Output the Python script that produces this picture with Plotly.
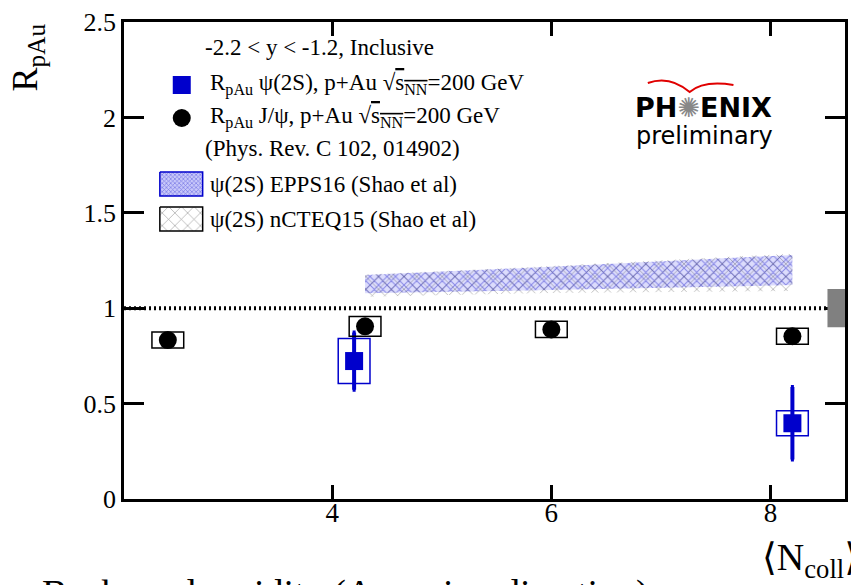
import plotly.graph_objects as go

# ---------------- data ----------------
ncoll_jpsi = [2.5, 4.3, 6.0, 8.2]
rpau_jpsi = [0.833, 0.905, 0.889, 0.853]
jpsi_stat = [0.01, 0.02, 0.01, 0.01]
jpsi_sys = [0.042, 0.052, 0.042, 0.042]

ncoll_psi2s = [4.2, 8.2]
rpau_psi2s = [0.723, 0.397]
psi2s_stat = [0.15, 0.19]
psi2s_sys = [0.118, 0.066]

model_x = [4.3, 6.0, 8.2]
epps_lo = [1.078, 1.095, 1.121]
epps_hi = [1.174, 1.217, 1.279]
ncteq_lo = [1.060, 1.080, 1.090]
ncteq_hi = [1.176, 1.221, 1.286]

global_unc = 0.10
y_ticks = [0, 0.5, 1, 1.5, 2, 2.5]
y_ticklabels = ["0", "0.5", "1", "1.5", "2", "2.5"]
x_ticks = [4, 6, 8]
x_ticklabels = ["4", "6", "8"]

legend_title = "-2.2 &lt; y &lt; -1.2, Inclusive"
label_psi2s = "R<sub>pAu</sub> ψ(2S), p+Au √<span style='text-decoration:overline'>s<sub>NN</sub></span>=200 GeV"
label_jpsi = "R<sub>pAu</sub> J/ψ, p+Au √<span style='text-decoration:overline'>s<sub>NN</sub></span>=200 GeV"
label_ref = "(Phys. Rev. C 102, 014902)"
label_epps = "ψ(2S) EPPS16 (Shao et al)"
label_ncteq = "ψ(2S) nCTEQ15 (Shao et al)"

# ---------------- style ----------------
SERIF = "Liberation Serif, Times New Roman, DejaVu Serif, serif"
SANS = "DejaVu Sans, Verdana, sans-serif"
BLUE = "#0000cc"
BOX_HALF = 0.145
X_RANGE = [2.1, 8.68]
Y_RANGE = [0, 2.5]
W, H = 851, 585
ML, MR, MT, MB = 124, 3, 22, 86

def px(x):
    return (x - ML) / (W - ML - MR)

def py(y):
    return (H - MB - y) / (H - MT - MB)

EPPS_PATTERN = dict(shape="x", fgcolor="#3030d0", bgcolor="#dcdcfc", size=6, solidity=0.3)
NCTEQ_PATTERN = dict(shape="x", fgcolor="#404040", bgcolor="rgba(0,0,0,0)", size=9, solidity=0.14)

fig = go.Figure()

# model bands
fig.add_trace(go.Scatter(
    x=model_x + model_x[::-1], y=epps_hi + epps_lo[::-1],
    fill="toself", fillpattern=EPPS_PATTERN, fillcolor="rgba(0,0,0,0)",
    line=dict(width=0), mode="lines", showlegend=False, hoverinfo="skip"))
fig.add_trace(go.Scatter(
    x=model_x + model_x[::-1], y=ncteq_hi + ncteq_lo[::-1],
    fill="toself", fillpattern=NCTEQ_PATTERN, fillcolor="rgba(0,0,0,0)",
    line=dict(width=0), mode="lines", showlegend=False, hoverinfo="skip"))

shapes = []
# unity line
shapes.append(dict(type="line", xref="x", yref="y", x0=X_RANGE[0], x1=X_RANGE[1], y0=1, y1=1,
                   line=dict(color="black", width=4, dash="2px,3px"), layer="above"))
# global uncertainty box
shapes.append(dict(type="rect", xref="x", yref="y", x0=8.52, x1=8.8,
                   y0=1 - global_unc, y1=1 + global_unc,
                   fillcolor="#808080", line=dict(width=0), layer="above"))
# systematic boxes
for x, y, s in zip(ncoll_jpsi, rpau_jpsi, jpsi_sys):
    shapes.append(dict(type="rect", xref="x", yref="y", x0=x - BOX_HALF, x1=x + BOX_HALF,
                       y0=y - s, y1=y + s, line=dict(color="black", width=1.5), layer="above"))
for x, y, s in zip(ncoll_psi2s, rpau_psi2s, psi2s_sys):
    shapes.append(dict(type="rect", xref="x", yref="y", x0=x - BOX_HALF, x1=x + BOX_HALF,
                       y0=y - s, y1=y + s, line=dict(color=BLUE, width=1.5), layer="above"))

# data points
fig.add_trace(go.Scatter(
    x=ncoll_jpsi, y=rpau_jpsi, mode="markers",
    marker=dict(symbol="circle", size=18, color="black"),
    error_y=dict(type="data", array=jpsi_stat, color="black", thickness=3, width=0),
    showlegend=False))
fig.add_trace(go.Scatter(
    x=ncoll_psi2s, y=rpau_psi2s, mode="markers",
    marker=dict(symbol="square", size=18, color=BLUE),
    error_y=dict(type="data", array=psi2s_stat, color=BLUE, thickness=4, width=1.5),
    showlegend=False))

# ---------------- legend (pixel overlay axes) ----------------
LX = dict(xaxis="x2", yaxis="y2", showlegend=False, hoverinfo="skip")
fig.add_trace(go.Scatter(x=[182], y=[85], mode="markers",
                         marker=dict(symbol="square", size=18, color=BLUE), **LX))
fig.add_trace(go.Scatter(x=[182], y=[118], mode="markers",
                         marker=dict(symbol="circle", size=18, color="black"), **LX))
fig.add_trace(go.Scatter(x=[160, 203, 203, 160, 160], y=[172, 172, 196, 196, 172],
                         fill="toself", fillpattern=dict(shape="x", fgcolor="#2a2ad0", bgcolor="#c8c8fa", size=3, solidity=0.4),
                         fillcolor="rgba(0,0,0,0)", mode="lines", line=dict(color=BLUE, width=1.5), **LX))
fig.add_trace(go.Scatter(x=[160, 203, 203, 160, 160], y=[207, 207, 231, 231, 207],
                         fill="toself", fillpattern=NCTEQ_PATTERN,
                         fillcolor="rgba(0,0,0,0)", mode="lines", line=dict(color="black", width=1.5), **LX))

ann = []
LEG_FONT = dict(family=SERIF, size=23, color="black")
def leg_text(x, y, t):
    ann.append(dict(xref="paper", yref="paper", x=px(x), y=py(y), text=t, showarrow=False,
                    xanchor="left", yanchor="middle", font=LEG_FONT))
leg_text(203, 48, legend_title)
leg_text(208, 85, label_psi2s)
leg_text(208, 118, label_jpsi)
leg_text(203, 148, label_ref)
leg_text(208, 184, label_epps)
leg_text(208, 219, label_ncteq)

# PHENIX logo
ann.append(dict(xref="paper", yref="paper", x=px(706), y=py(107), showarrow=False, xanchor="center", yanchor="middle",
                text="<b>PH</b><span style='color:#888888'>✺</span><b>ENIX</b>",
                font=dict(family=SANS, size=27, color="black")))
ann.append(dict(xref="paper", yref="paper", x=px(707), y=py(136), showarrow=False, xanchor="center", yanchor="middle",
                text="preliminary", font=dict(family=SANS, size=24, color="black")))
shapes.append(dict(type="path", xref="x2", yref="y2",
                   path="M 650 83 Q 672 75 692 92 Q 706 80 736 85",
                   line=dict(color="#e00000", width=2)))

# axis titles
ann.append(dict(xref="paper", yref="paper", x=px(28), y=py(57), showarrow=False, textangle=-90,
                xanchor="center", yanchor="middle", text="R<sub>pAu</sub>",
                font=dict(family=SERIF, size=36, color="black")))
ann.append(dict(xref="paper", yref="paper", x=px(763), y=py(560), showarrow=False,
                xanchor="left", yanchor="middle", text="⟨N<sub>coll</sub>⟩",
                font=dict(family=SERIF, size=38, color="black")))
ann.append(dict(xref="paper", yref="paper", x=px(40), y=py(570), showarrow=False,
                xanchor="left", yanchor="top", text="Backward rapidity (Au-going direction):",
                font=dict(family=SERIF, size=38, color="black")))

fig.update_layout(
    width=W, height=H,
    margin=dict(l=ML, r=MR, t=MT, b=MB),
    paper_bgcolor="white", plot_bgcolor="white",
    shapes=shapes, annotations=ann,
    xaxis=dict(range=X_RANGE, tickvals=x_ticks, ticktext=x_ticklabels,
               ticks="inside", ticklen=14, tickwidth=2.5, tickcolor="black",
               showline=True, linewidth=2.5, linecolor="black", mirror="ticks",
               showgrid=False, zeroline=False, ticklabelstandoff=-12,
               tickfont=dict(family=SERIF, size=27, color="black")),
    yaxis=dict(range=Y_RANGE, tickvals=y_ticks, ticktext=y_ticklabels,
               ticks="inside", ticklen=20, tickwidth=2.5, tickcolor="black",
               showline=True, linewidth=2.5, linecolor="black", mirror="ticks",
               showgrid=False, zeroline=False,
               tickfont=dict(family=SERIF, size=26, color="black")),
    xaxis2=dict(range=[ML, W - MR], overlaying="x", anchor="y2", visible=False, fixedrange=True),
    yaxis2=dict(range=[H - MB, MT], overlaying="y", anchor="x2", visible=False, fixedrange=True),
    showlegend=False,
)

fig.write_html("out.html")
